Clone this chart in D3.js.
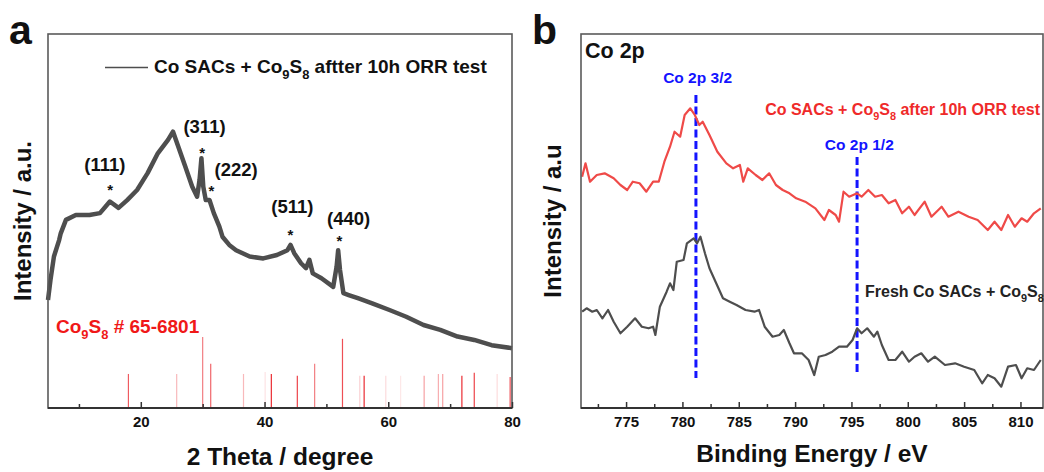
<!DOCTYPE html>
<html><head><meta charset="utf-8">
<script src="https://cdn.jsdelivr.net/npm/d3@7/dist/d3.min.js"></script>
<style>
body{margin:0;background:#fff}
svg{display:block}
text{font-family:Arial,"Liberation Sans",sans-serif;font-weight:bold}
</style>
</head><body>
<svg id="c" width="1044" height="472"></svg>
<script>
// ---------------- Panel a: XRD ----------------
const xrdTheta = [5.0,5.4,5.96,6.8,7.06,7.9,9.5,11.7,13.4,15.0,16.4,17.8,19.4,21.1,22.75,24.4,25.2,26.05,27.2,28.3,29.1,29.5,29.8,30.1,30.5,31.1,31.8,32.7,33.2,34.3,35.4,37.6,39.8,42.0,43.7,44.2,44.8,45.9,46.7,47.25,47.8,49.2,51.1,51.65,51.9,52.2,52.75,53.6,55.2,57.4,60.2,62.9,65.7,68.4,71.2,73.9,76.7,80.0];
const xrdIntensity = [289,342,405,449,467,503,516,516,521,552,535,556,583,628,681,717,739,699,645,592,565,610,668,592,556,556,521,485,458,436,422,405,400,409,422,436,414,387,374,396,360,347,324,378,422,369,307,302,293,280,262,244,222,209,191,182,168,160];
// Co9S8 reference pattern (PDF # 65-6801)
const refTheta = [18.0,25.8,30.0,31.3,36.6,40.1,41.1,45.3,48.1,52.6,55.4,56.1,59.6,62.0,65.8,68.1,68.8,71.9,73.9,77.6,79.7];
const refIntensity = [91,91,190,118,91,96,91,86,118,185,86,86,86,86,86,91,91,86,94,91,83];
const refShade = [0.7,0.3,0.55,0.65,0.3,0.12,0.9,0.8,0.55,0.75,0.2,0.9,0.15,0.1,0.4,0.35,0.4,0.9,0.8,0.15,0.75];
const peakHkl = ["(111)","(311)","(222)","(511)","(440)"];
const peakStarTheta = [15.05,29.9,31.4,44.2,52.1];
const peakStarI = [570,668,566,450,433];
const peakLabelTheta = [14.2,30.3,35.4,44.5,53.6];
const peakLabelI = [635,734,620,521,489];
const xrdTicks = [20,40,60,80];
const xrdMinorTicks = [10,30,50,70];

// ---------------- Panel b: XPS Co 2p ----------------
const afterBE = [771.1,771.4,771.8,772.4,773.1,773.9,774.5,775.1,775.6,776.2,776.8,777.4,777.9,778.4,778.9,779.3,779.8,780.2,780.7,781.1,781.5,781.8,782.4,783.1,783.9,784.5,785.1,785.4,785.8,786.5,787.1,787.7,788.3,788.9,789.5,790.1,790.9,791.8,792.6,793.0,793.6,793.9,794.3,794.8,795.5,795.9,796.5,797.1,797.7,798.3,798.9,799.5,800.1,800.6,801.5,802.1,803.0,803.6,804.5,805.4,806.2,807.1,807.7,808.3,808.9,809.5,810.1,810.6,811.2,811.8];
const afterIntensity = [231.3,244.7,226.3,233,234.7,229.7,223,218,226.3,224.7,216.3,226.3,226.3,246.3,261.3,276.3,271.3,293,299.7,293,283,286.3,273,256.3,244.7,239.7,243,226.3,239.7,233,228,234.7,223,218,214.7,209.7,206.3,199.7,188,198,193,186.3,216.3,211.3,214.7,211.3,218,211.3,213,204.7,208,194.7,201.3,193,206.3,191.3,201.3,191.3,196.3,191.3,188,178,186.3,178,193,181.3,189.7,186.3,194.7,199.7];
const freshBE = [771.1,771.5,772.0,772.4,772.9,773.4,773.9,774.5,775.1,775.8,776.4,777.0,777.4,777.6,778.0,778.6,778.9,779.2,779.5,780.1,780.4,781.0,781.3,781.6,782.0,782.4,783.0,783.6,784.2,784.8,785.6,786.4,786.8,787.3,788.0,788.6,789.0,789.5,789.9,790.6,791.2,791.7,792.1,792.7,793.3,793.9,794.6,795.1,795.5,795.9,796.4,797.0,797.3,797.7,798.3,798.9,799.5,800.1,800.6,801.2,801.8,802.4,803.3,804.2,805.0,805.9,806.6,807.1,807.7,808.3,808.9,809.6,810.1,810.6,811.2,811.8];
const freshIntensity = [96.3,99.7,96.3,98,89.7,98,86.3,74.7,81.3,89.7,81.3,79.7,81.3,73,101.3,116.3,124.7,118,146.3,148,164.7,169.7,164.7,171.3,154.7,139.7,124.7,109.7,106.3,103,98,96.3,98,81.3,71.3,73,78,64.7,54.7,54.7,48,33,51.3,53,56.3,61.3,61.3,68,79.7,74.7,79.7,71.3,76.3,63,48,48,56.3,46.3,51.3,54.7,46.3,51.3,43,44.7,41.3,38,24.7,33,29.7,21.3,41.3,43,29.7,39.7,38,48];
const coLineBE = [781.2,795.5];
const coLineTop = [313,251];
const coLineBottom = [30,34];
const coLabels = ["Co 2p 3/2","Co 2p 1/2"];
const coLabelBE = [781.35,795.7];
const coLabelI = [325,258];
const xpsTicks = [775,780,785,790,795,800,805,810];
const xpsMinorTicks = [772.5,777.5,782.5,787.5,792.5,797.5,802.5,807.5];

// ---------------- drawing ----------------
const svg = d3.select("#c");
const A = {l:48, r:512, t:34, b:408};
const B = {l:581, r:1043, t:34, b:408};

function addText(g, x, y, parts, size, color, anchor, rot) {
  const t = g.append("text").attr("x", x).attr("y", y)
    .attr("font-size", size).attr("fill", color)
    .attr("text-anchor", anchor || "start");
  if (rot) t.attr("transform", `rotate(${rot},${x},${y})`);
  let shift = 0;
  (Array.isArray(parts) ? parts : [parts]).forEach(p => {
    if (typeof p === "string") {
      const s = t.append("tspan").text(p);
      if (shift) { s.attr("dy", -shift); shift = 0; }
    } else {
      const d = size * 0.3;
      t.append("tspan").attr("font-size", size * 0.68).attr("dy", d - shift).text(p.sub);
      shift = d;
    }
  });
  return t;
}

function frame(P) {
  svg.append("rect").attr("x", P.l).attr("y", P.t).attr("width", P.r - P.l).attr("height", P.b - P.t)
    .attr("fill", "none").attr("stroke", "#5a5a5a").attr("stroke-width", 1.6);
  svg.append("line").attr("x1", P.l).attr("x2", P.r).attr("y1", P.b).attr("y2", P.b)
    .attr("stroke", "#333").attr("stroke-width", 2);
}

function xAxis(P, x, major, minor) {
  const g = svg.append("g").attr("transform", `translate(0,${P.b})`);
  g.call(d3.axisBottom(x).tickValues(major).tickSizeInner(-6).tickSizeOuter(0).tickPadding(8).tickFormat(d3.format("d")));
  g.select(".domain").remove();
  g.selectAll(".tick line").attr("stroke", "#333").attr("stroke-width", 1.5);
  g.selectAll(".tick text").attr("font-size", 15).attr("fill", "#111")
    .attr("font-family", 'Arial,"Liberation Sans",sans-serif').attr("font-weight", "bold");
  const m = svg.append("g").attr("transform", `translate(0,${P.b})`);
  m.call(d3.axisBottom(x).tickValues(minor).tickSizeInner(-4).tickSizeOuter(0).tickFormat(""));
  m.select(".domain").remove();
  m.selectAll(".tick line").attr("stroke", "#333").attr("stroke-width", 1.5);
}

// Panel a
const xa = d3.scaleLinear().domain([5, 80]).range([A.l, A.r]);
const ya = d3.scaleLinear().domain([0, 1000]).range([A.b, A.t]);
const shade = d3.interpolateRgb("#ffffff", "#e8141c");
svg.append("g").selectAll("line").data(refTheta).join("line")
  .attr("x1", d => xa(d)).attr("x2", d => xa(d))
  .attr("y1", ya(0)).attr("y2", (d, i) => ya(refIntensity[i]))
  .attr("stroke", (d, i) => shade(refShade[i])).attr("stroke-width", 1.2);
svg.append("path").datum(xrdTheta.map((d, i) => [d, xrdIntensity[i]]))
  .attr("fill", "none").attr("stroke", "#4e4e4e").attr("stroke-width", 4.5).attr("stroke-linejoin", "round")
  .attr("d", d3.line().x(d => xa(d[0])).y(d => ya(d[1])));
frame(A);
xAxis(A, xa, xrdTicks, xrdMinorTicks);

peakHkl.forEach((h, i) => {
  addText(svg, xa(peakLabelTheta[i]), ya(peakLabelI[i]), h, 18.5, "#111", "middle");
  addText(svg, xa(peakStarTheta[i]), ya(peakStarI[i]), "*", 15, "#111", "middle");
});
// legend
svg.append("line").attr("x1", 105).attr("x2", 148).attr("y1", 67.5).attr("y2", 67.5).attr("stroke", "#4e4e4e").attr("stroke-width", 1.5);
addText(svg, 154, 73, ["Co SACs + Co", {sub:"9"}, "S", {sub:"8"}, " aftter 10h ORR test"], 19, "#111");
addText(svg, 56, 333, ["Co", {sub:"9"}, "S", {sub:"8"}, " # 65-6801"], 19, "#f01818");
addText(svg, (A.l + A.r) / 2, 465, "2 Theta / degree", 24.5, "#111", "middle");
addText(svg, 31, (A.t + A.b) / 2, "Intensity / a.u.", 24, "#111", "middle", -90);
addText(svg, 9, 44, "a", 41, "#111");

// Panel b
const xb = d3.scaleLinear().domain([771, 812]).range([B.l, B.r]);
const yb = d3.scaleLinear().domain([0, 374]).range([B.b, B.t]);
coLineBE.forEach((e, i) => {
  svg.append("line").attr("x1", xb(e)).attr("x2", xb(e)).attr("y1", yb(coLineTop[i])).attr("y2", yb(coLineBottom[i]))
    .attr("stroke", "#1414ff").attr("stroke-width", 3).attr("stroke-dasharray", "8,3.5");
});
const lineB = d3.line().x(d => xb(d[0])).y(d => yb(d[1]));
svg.append("path").datum(afterBE.map((d, i) => [d, afterIntensity[i]]))
  .attr("fill", "none").attr("stroke", "#ef4a48").attr("stroke-width", 2.2).attr("stroke-linejoin", "round").attr("d", lineB);
svg.append("path").datum(freshBE.map((d, i) => [d, freshIntensity[i]]))
  .attr("fill", "none").attr("stroke", "#4e4e4e").attr("stroke-width", 2.2).attr("stroke-linejoin", "round").attr("d", lineB);
frame(B);
xAxis(B, xb, xpsTicks, xpsMinorTicks);
coLabels.forEach((c, i) => addText(svg, xb(coLabelBE[i]), yb(coLabelI[i]), c, 15.5, "#1414ff", "middle"));
addText(svg, 585, 58, "Co 2p", 21.5, "#111");
addText(svg, 1040, 115, ["Co SACs + Co", {sub:"9"}, "S", {sub:"8"}, " after 10h ORR test"], 16, "#ef2a2a", "end");
addText(svg, 865, 297, ["Fresh Co SACs + Co", {sub:"9"}, "S", {sub:"8"}], 16, "#222");
addText(svg, (B.l + B.r) / 2, 462, "Binding Energy / eV", 24.5, "#111", "middle");
addText(svg, 561, (B.t + B.b) / 2, "Intensity / a.u", 24, "#111", "middle", -90);
addText(svg, 532, 44, "b", 41, "#111");
</script>
</body></html>
